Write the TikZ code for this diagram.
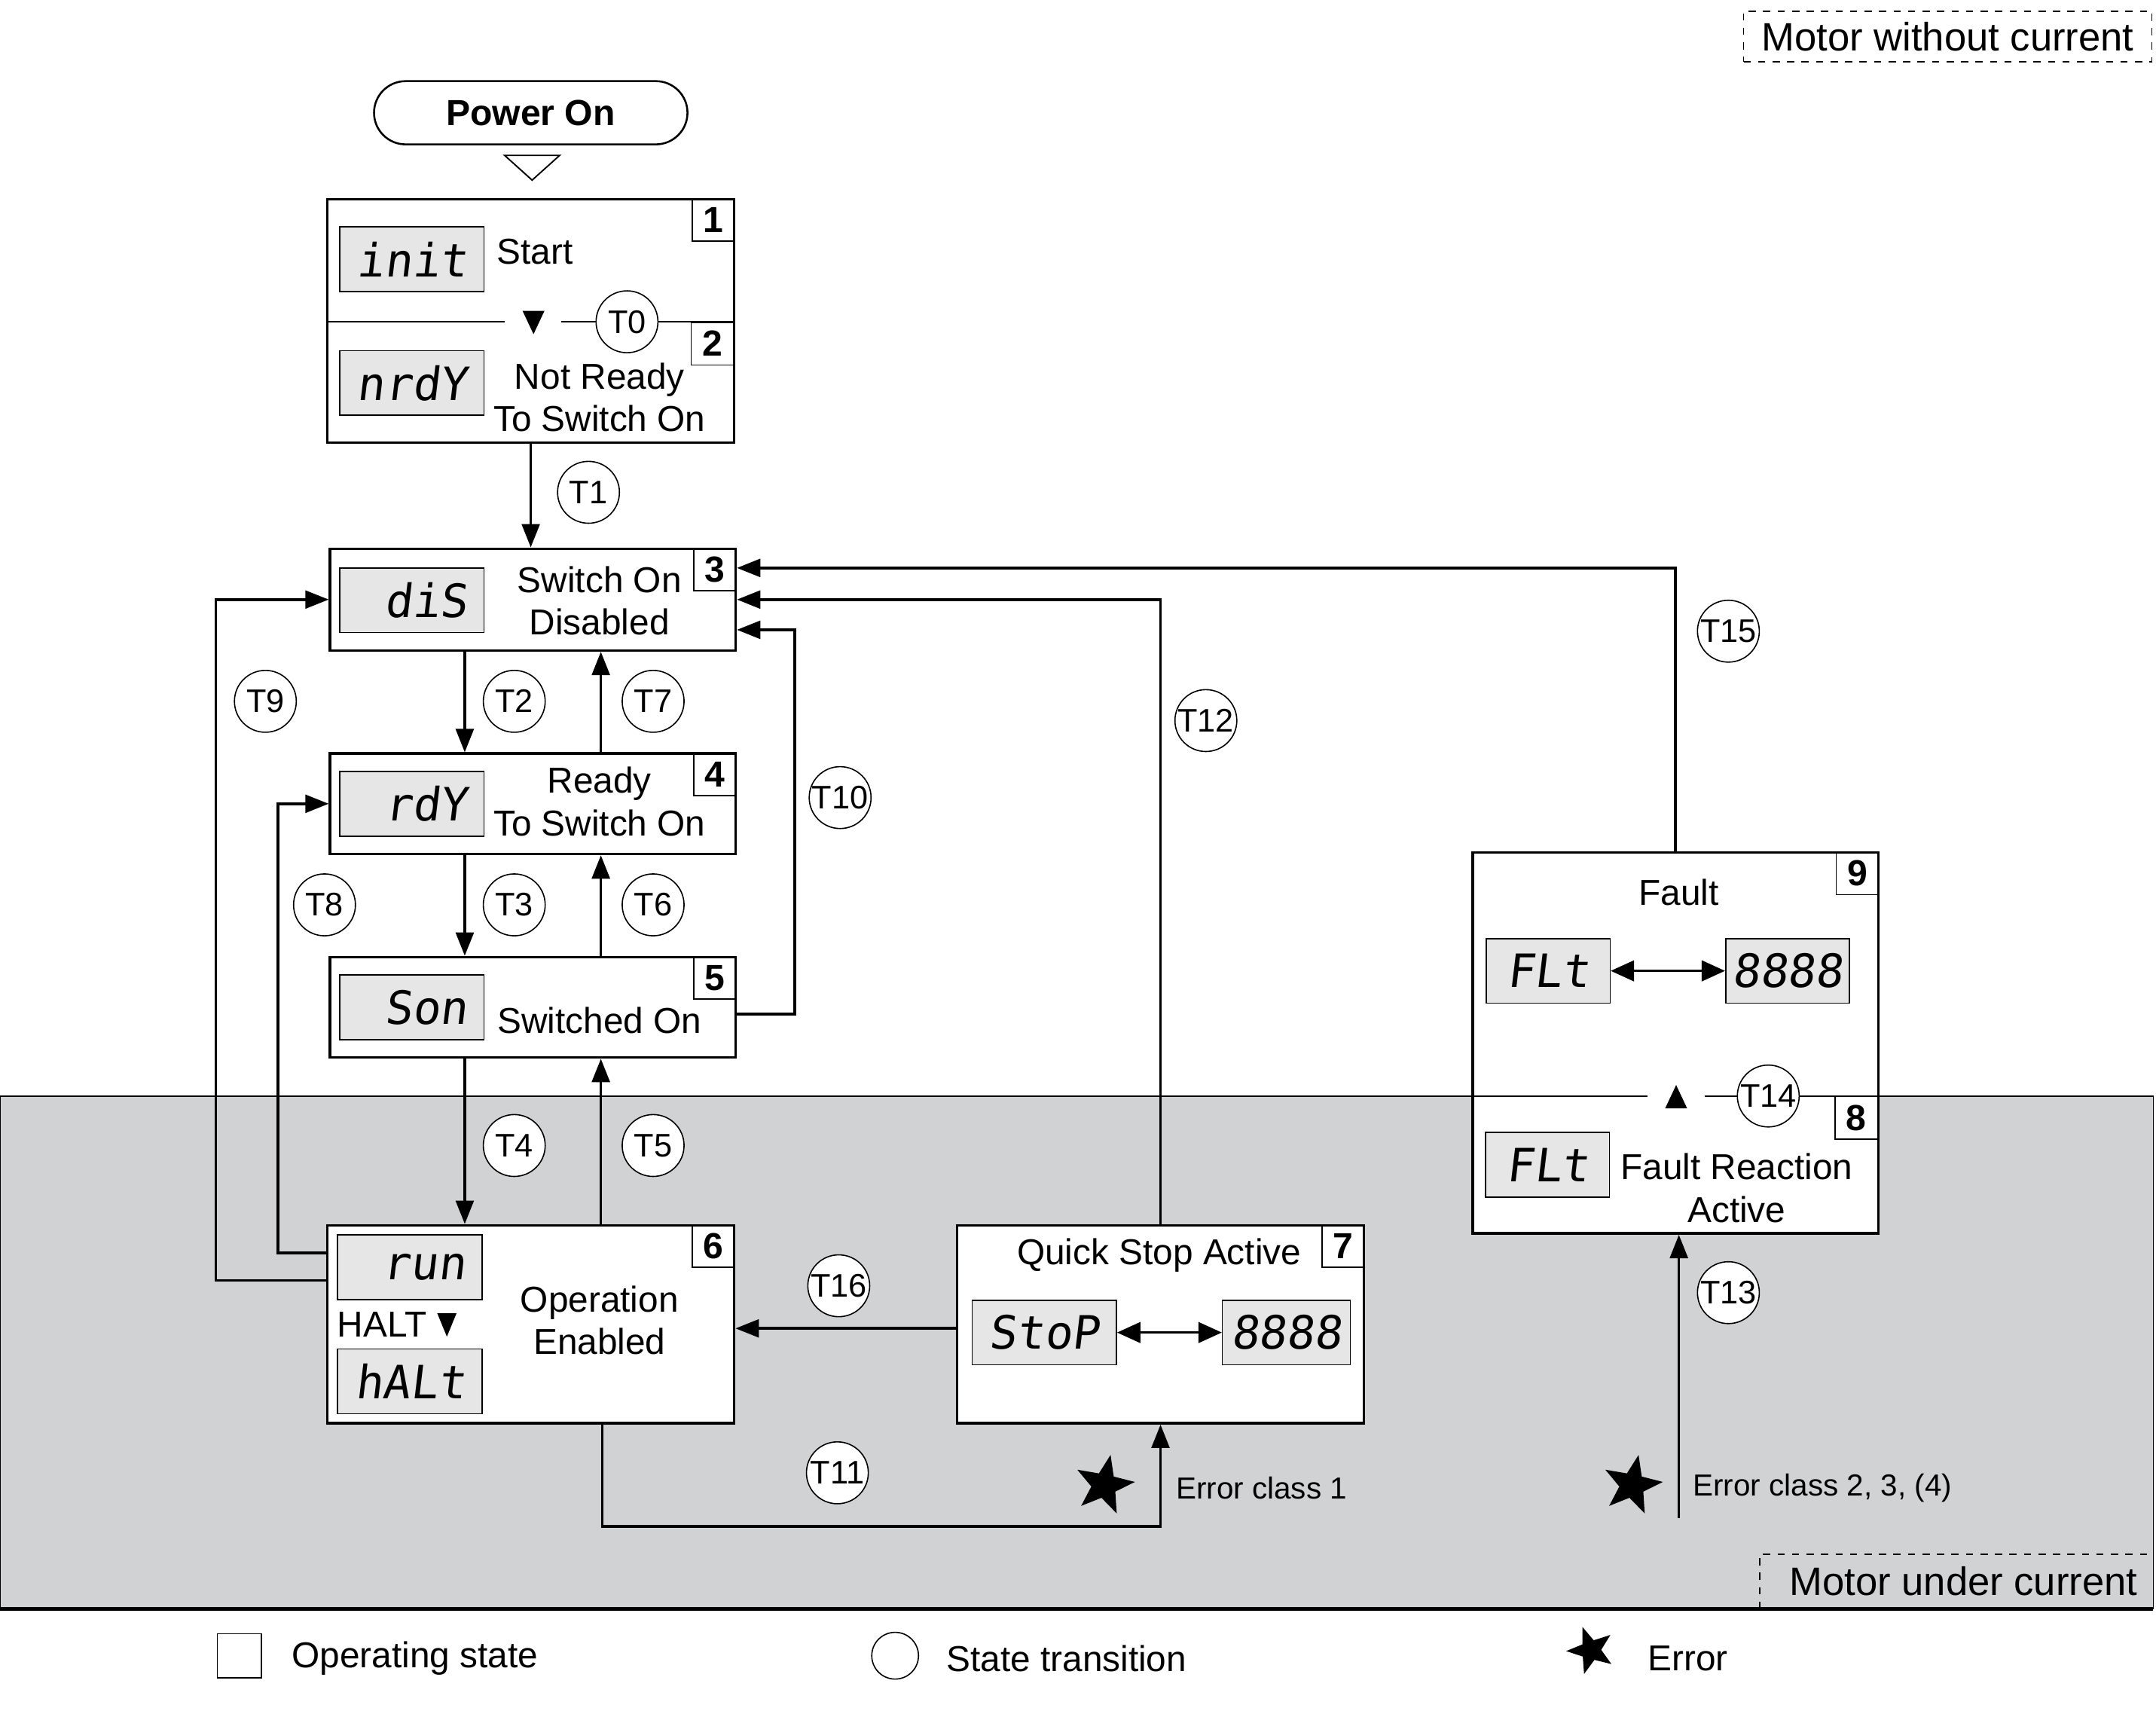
\documentclass[tikz,border=0pt]{standalone}
\usepackage{fontspec}
\setmainfont{Liberation Sans}
\newfontfamily\segfont[FakeSlant=0.12]{DejaVu Sans Mono}
\usetikzlibrary{arrows.meta,shapes.geometric}
\definecolor{zone}{HTML}{D1D2D4}
\definecolor{lcdgray}{HTML}{E6E6E6}

\begin{document}
\begin{tikzpicture}[x=0.02cm,y=-0.02cm,
    state/.style={draw,line width=1.1pt,fill=white,inner sep=0pt},
    lcd/.style={draw,line width=0.5pt,fill=lcdgray,minimum width=2.1cm,minimum height=0.94cm,inner sep=0pt,text width=1.62cm,align=right,font=\segfont\fontsize{19}{19}\selectfont},
    lcdc/.style={lcd,text width=,align=center},
    txt/.style={align=center,inner sep=0pt,font=\fontsize{14.9}{17.6}\selectfont},
    tab/.style={draw,line width=0.5pt,minimum size=0.62cm,inner sep=0pt,font=\bfseries\fontsize{15}{15}\selectfont},
    trans/.style={circle,draw,line width=0.5pt,fill=white,minimum size=0.9cm,inner sep=0pt,font=\fontsize{13.5}{13.5}\selectfont},
    flow/.style={line width=1.1pt,-{Triangle[length=0.34cm,width=0.26cm]}},
    both/.style={line width=1pt,{Triangle[length=0.34cm,width=0.3cm]}-{Triangle[length=0.34cm,width=0.3cm]}},
    err/.style={star,star points=5,star point ratio=2.4,fill=black,minimum size=0.9cm,inner sep=0pt},
    note/.style={anchor=west,inner sep=0pt,font=\fontsize{12.6}{12.6}\selectfont},
    zonelbl/.style={inner sep=0pt,font=\fontsize{16.4}{16.4}\selectfont}]

    \useasboundingbox (0,0) rectangle (1568,1246);

    \draw[line width=0.5pt,fill=zone] (0,797) rectangle (1566,1170);
    \draw[line width=1.3pt] (0,1170) -- (1566,1170);
    \draw[dashed,line width=0.6pt] (1280,1170) -- (1280,1130) -- (1566,1130);
    \node[zonelbl] (mu) at (1428,1150) {Motor under current};
    \node[zonelbl,draw,dashed,line width=0.6pt,minimum width=5.94cm,minimum height=0.74cm] (mw) at (1416.5,26.5) {Motor without current};

    \node[state,rounded corners=0.46cm,line width=0.8pt,minimum width=4.56cm,minimum height=0.92cm,font=\bfseries\fontsize{15}{15}\selectfont] (pon) at (386,82) {Power On};
    \draw[line width=0.6pt] (367,113) -- (407,113) -- (387,131) -- cycle;

    \node[state,minimum width=5.92cm,minimum height=3.54cm] (s12) at (386,233.5) {};
    \node[tab,anchor=north east] (n1) at (s12.north east) {1};
    \node[lcd] (d1) at (299.5,188.5) {init};
    \node[txt,anchor=west] (l1) at (361,183) {Start};
    \draw[line width=0.5pt] (238,234) -- (367,234);
    \draw[line width=0.5pt] (408,234) -- (534,234);
    \fill (380,226) -- (396,226) -- (388,243) -- cycle;
    \node[trans] (t0) at (456,234) {T0};
    \node[tab,anchor=north east] (n2) at (534,234) {2};
    \node[lcd] (d2) at (299.5,278.5) {nrdY};
    \node[txt] (l2) at (436,289) {Not Ready\\To Switch On};

    \node[state,minimum width=5.9cm,minimum height=1.48cm] (s3) at (387.5,436) {};
    \node[tab,anchor=north east] (n3) at (s3.north east) {3};
    \node[lcd] (d3) at (299.5,436.5) {diS};
    \node[txt] (l3) at (436,437) {Switch On\\Disabled};

    \node[state,minimum width=5.9cm,minimum height=1.46cm] (s4) at (387.5,584.5) {};
    \node[tab,anchor=north east] (n4) at (s4.north east) {4};
    \node[lcd] (d4) at (299.5,584.5) {rdY};
    \node[txt] (l4) at (436,583) {Ready\\To Switch On};

    \node[state,minimum width=5.9cm,minimum height=1.46cm] (s5) at (387.5,732.5) {};
    \node[tab,anchor=north east] (n5) at (s5.north east) {5};
    \node[lcd] (d5) at (299.5,732.5) {Son};
    \node[txt] (l5) at (436,742) {Switched On};

    \node[state,minimum width=5.92cm,minimum height=2.88cm] (s6) at (386,963) {};
    \node[tab,anchor=north east] (n6) at (s6.north east) {6};
    \node[lcd] (d6) at (298,921.5) {run};
    \node[txt,anchor=west] (h6) at (245,963) {HALT};
    \fill (318,955) -- (332,955) -- (325,972) -- cycle;
    \node[lcd] (d6b) at (298,1004.5) {hALt};
    \node[txt] (l6) at (436,960) {Operation\\Enabled};

    \node[state,minimum width=5.92cm,minimum height=2.88cm] (s7) at (844,963) {};
    \node[tab,anchor=north east] (n7) at (s7.north east) {7};
    \node[txt] (l7) at (843,913) {Quick Stop Active};
    \node[lcdc] (d7) at (759.5,969) {StoP};
    \node[lcdc,minimum width=1.86cm] (d7b) at (935.5,969) {8888};
    \draw[both] (d7) -- (d7b);

    \node[state,minimum width=5.9cm,minimum height=5.54cm] (s98) at (1218.5,758.5) {};
    \node[tab,anchor=north east] (n9) at (s98.north east) {9};
    \node[txt] (l9) at (1221,649) {Fault};
    \node[lcdc,minimum width=1.8cm] (d9) at (1126,706) {FLt};
    \node[lcdc,minimum width=1.8cm] (d9b) at (1300,706) {8888};
    \draw[both] (d9) -- (d9b);
    \draw[line width=0.5pt] (1071,797) -- (1198,797);
    \draw[line width=0.5pt] (1240,797) -- (1366,797);
    \fill (1211,806) -- (1227,806) -- (1219,789) -- cycle;
    \node[trans] (t14) at (1286,797) {T14};
    \node[tab,anchor=north east] (n8) at (1366,797) {8};
    \node[lcdc,minimum width=1.8cm] (d8) at (1125.5,847) {FLt};
    \node[txt] (l8) at (1263,864) {Fault Reaction\\Active};

    \draw[flow] (s12.south) -- (s12.south |- s3.north);
    \draw[flow] ([xshift=-0.99cm]s3.south) -- ([xshift=-0.99cm]s3.south |- s4.north);
    \draw[flow] ([xshift=0.99cm]s4.north) -- ([xshift=0.99cm]s4.north |- s3.south);
    \draw[flow] ([xshift=-0.99cm]s4.south) -- ([xshift=-0.99cm]s4.south |- s5.north);
    \draw[flow] ([xshift=0.99cm]s5.north) -- ([xshift=0.99cm]s5.north |- s4.south);
    \draw[flow] ([xshift=-0.99cm]s5.south) -- ([xshift=-0.99cm]s5.south |- s6.north);
    \draw[flow] ([xshift=0.99cm]s5.south |- s6.north) -- ([xshift=0.99cm]s5.south);
    \draw[flow] ([yshift=0.64cm]s6.west) -- ++(-1.6cm,0) |- (s3.west);
    \draw[flow] ([yshift=1.04cm]s6.west) -- ++(-0.7cm,0) |- (s4.west);
    \draw[flow] ([yshift=-0.1cm]s5.east) -- ++(0.84cm,0) |- ([yshift=-0.44cm]s3.east);
    \draw[flow] (s7.north) |- (s3.east);
    \draw[flow] (s98.north) |- ([yshift=0.46cm]s3.east);
    \draw[flow] ([yshift=-0.06cm]s7.west) -- ([yshift=-0.06cm]s7.west -| s6.east);
    \draw[flow] ([xshift=1.04cm]s6.south) -- ++(0,-1.48cm) -| (s7.south);
    \coordinate (e2) at (1221,1104);
    \draw[flow] (e2) -- (e2 |- s98.south);

    \node[trans] (t1) at (428,358) {T1};
    \node[trans] (t2) at (374,510) {T2};
    \node[trans] (t7) at (475,510) {T7};
    \node[trans] (t9) at (193,510) {T9};
    \node[trans] (t12) at (877,524) {T12};
    \node[trans] (t15) at (1257,459) {T15};
    \node[trans] (t10) at (611,580) {T10};
    \node[trans] (t8) at (236,658) {T8};
    \node[trans] (t3) at (374,658) {T3};
    \node[trans] (t6) at (475,658) {T6};
    \node[trans] (t4) at (374,833) {T4};
    \node[trans] (t5) at (475,833) {T5};
    \node[trans] (t16) at (610,935) {T16};
    \node[trans] (t11) at (609,1071) {T11};
    \node[trans] (t13) at (1257,940) {T13};

    \node[err,rotate=-12] (x1) at (803,1080) {};
    \node[note] (e1l) at (855,1082) {Error class 1};
    \node[err,rotate=-12] (x2) at (1187,1080) {};
    \node[note] (e2l) at (1231,1082) {Error class 2, 3, (4)};

    \node[draw,line width=0.5pt,minimum size=0.64cm,inner sep=0pt] (k1) at (174,1204) {};
    \node[txt,anchor=west] (k1l) at (212,1206) {Operating state};
    \node[circle,draw,line width=0.5pt,minimum size=0.68cm,inner sep=0pt] (k2) at (651,1204) {};
    \node[txt,anchor=west] (k2l) at (688,1206) {State transition};
    \node[err,minimum size=0.72cm,rotate=20] (k3) at (1157,1200) {};
    \node[txt,anchor=west] (k3l) at (1198,1206) {Error};

  \end{tikzpicture}
\end{document}
